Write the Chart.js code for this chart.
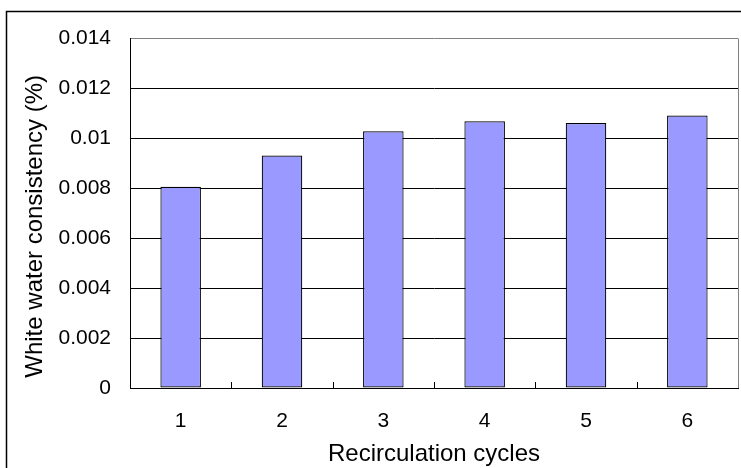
<!DOCTYPE html>
<html>
<head>
<meta charset="utf-8">
<script src="https://cdn.jsdelivr.net/npm/chart.js@4.4.0/dist/chart.umd.min.js"></script>
<style>
  html, body { margin: 0; padding: 0; background: #fff; }
  #wrap { width: 741px; height: 468px; position: relative; }
</style>
</head>
<body>
<div id="wrap"><canvas id="myChart" width="741" height="468"></canvas></div>
<script>
const cycles = ['1', '2', '3', '4', '5', '6'];
const consistency = [0.00805, 0.0093, 0.01027, 0.01067, 0.0106, 0.0109];
const yTickLabels = ['0', '0.002', '0.004', '0.006', '0.008', '0.01', '0.012', '0.014'];

const fontFamily = '"Liberation Sans", Arial, sans-serif';

// page frame (left + top only, the rest is cut off) and inward x ticks
const framePlugin = {
    id: 'frame',
    beforeDraw(chart) {
        const c = chart.ctx;
        const a = chart.chartArea;
        c.save();
        c.fillStyle = '#fff';
        c.fillRect(0, 0, chart.width, chart.height);
        c.strokeStyle = '#000';
        c.lineWidth = 1.5;
        c.beginPath();
        c.moveTo(6.5, chart.height + 5);
        c.lineTo(6.5, 11.5);
        c.lineTo(chart.width + 5, 11.5);
        c.stroke();
        c.strokeStyle = '#808080';
        c.lineWidth = 1;
        c.beginPath();
        c.moveTo(a.right + 0.5, a.bottom);
        c.lineTo(a.right + 0.5, a.top + 0.5);
        c.stroke();
        c.restore();
    },
    afterDraw(chart) {
        const c = chart.ctx;
        const x = chart.scales.x;
        const bottom = chart.chartArea.bottom;
        c.save();
        c.strokeStyle = '#000';
        c.lineWidth = 1;
        c.beginPath();
        for (let i = 0; i < cycles.length - 1; i++) {
            const px = Math.round((x.getPixelForValue(i) + x.getPixelForValue(i + 1)) / 2) + 0.5;
            c.moveTo(px, bottom);
            c.lineTo(px, bottom - 6);
        }
        c.stroke();
        c.restore();
    }
};

const ctx = document.getElementById('myChart').getContext('2d');
const myChart = new Chart(ctx, {
    type: 'bar',
    data: {
        labels: cycles,
        datasets: [{
            label: 'White water consistency',
            data: consistency,
            backgroundColor: '#9999FF',
            borderColor: '#000',
            borderWidth: 1.2,
            borderSkipped: false,
            categoryPercentage: 1,
            barPercentage: 0.4
        }]
    },
    options: {
        responsive: false,
        animation: false,
        layout: {
            padding: { top: 38, right: 3, left: 0, bottom: 0 }
        },
        scales: {
            y: {
                min: 0,
                max: 0.014,
                afterFit(scale) { scale.width = 130; },
                ticks: {
                    stepSize: 0.002,
                    padding: 19,
                    color: '#000',
                    font: { family: fontFamily, size: 21 },
                    callback: (v, i) => yTickLabels[i]
                },
                grid: {
                    drawTicks: false,
                    color: (c) => c.index === yTickLabels.length - 1 ? '#808080' : '#000',
                    lineWidth: 1
                },
                border: { color: '#000', width: 1 },
                title: {
                    display: true,
                    // trailing spaces push the centred label a little lower, as in the original
                    text: 'White water consistency (%)    ',
                    color: '#000',
                    font: { family: fontFamily, size: 24 },
                    padding: { top: 21, bottom: 0 }
                }
            },
            x: {
                afterFit(scale) { scale.height = 80; },
                ticks: {
                    padding: 21,
                    color: '#000',
                    font: { family: fontFamily, size: 21 }
                },
                grid: { display: false, drawTicks: false },
                border: { color: '#000', width: 1 },
                title: {
                    display: true,
                    text: 'Recirculation cycles',
                    color: '#000',
                    font: { family: fontFamily, size: 24 },
                    padding: { top: 0, bottom: -1 }
                }
            }
        },
        plugins: {
            legend: { display: false },
            tooltip: { enabled: false }
        }
    },
    plugins: [framePlugin]
});
</script>
</body>
</html>
